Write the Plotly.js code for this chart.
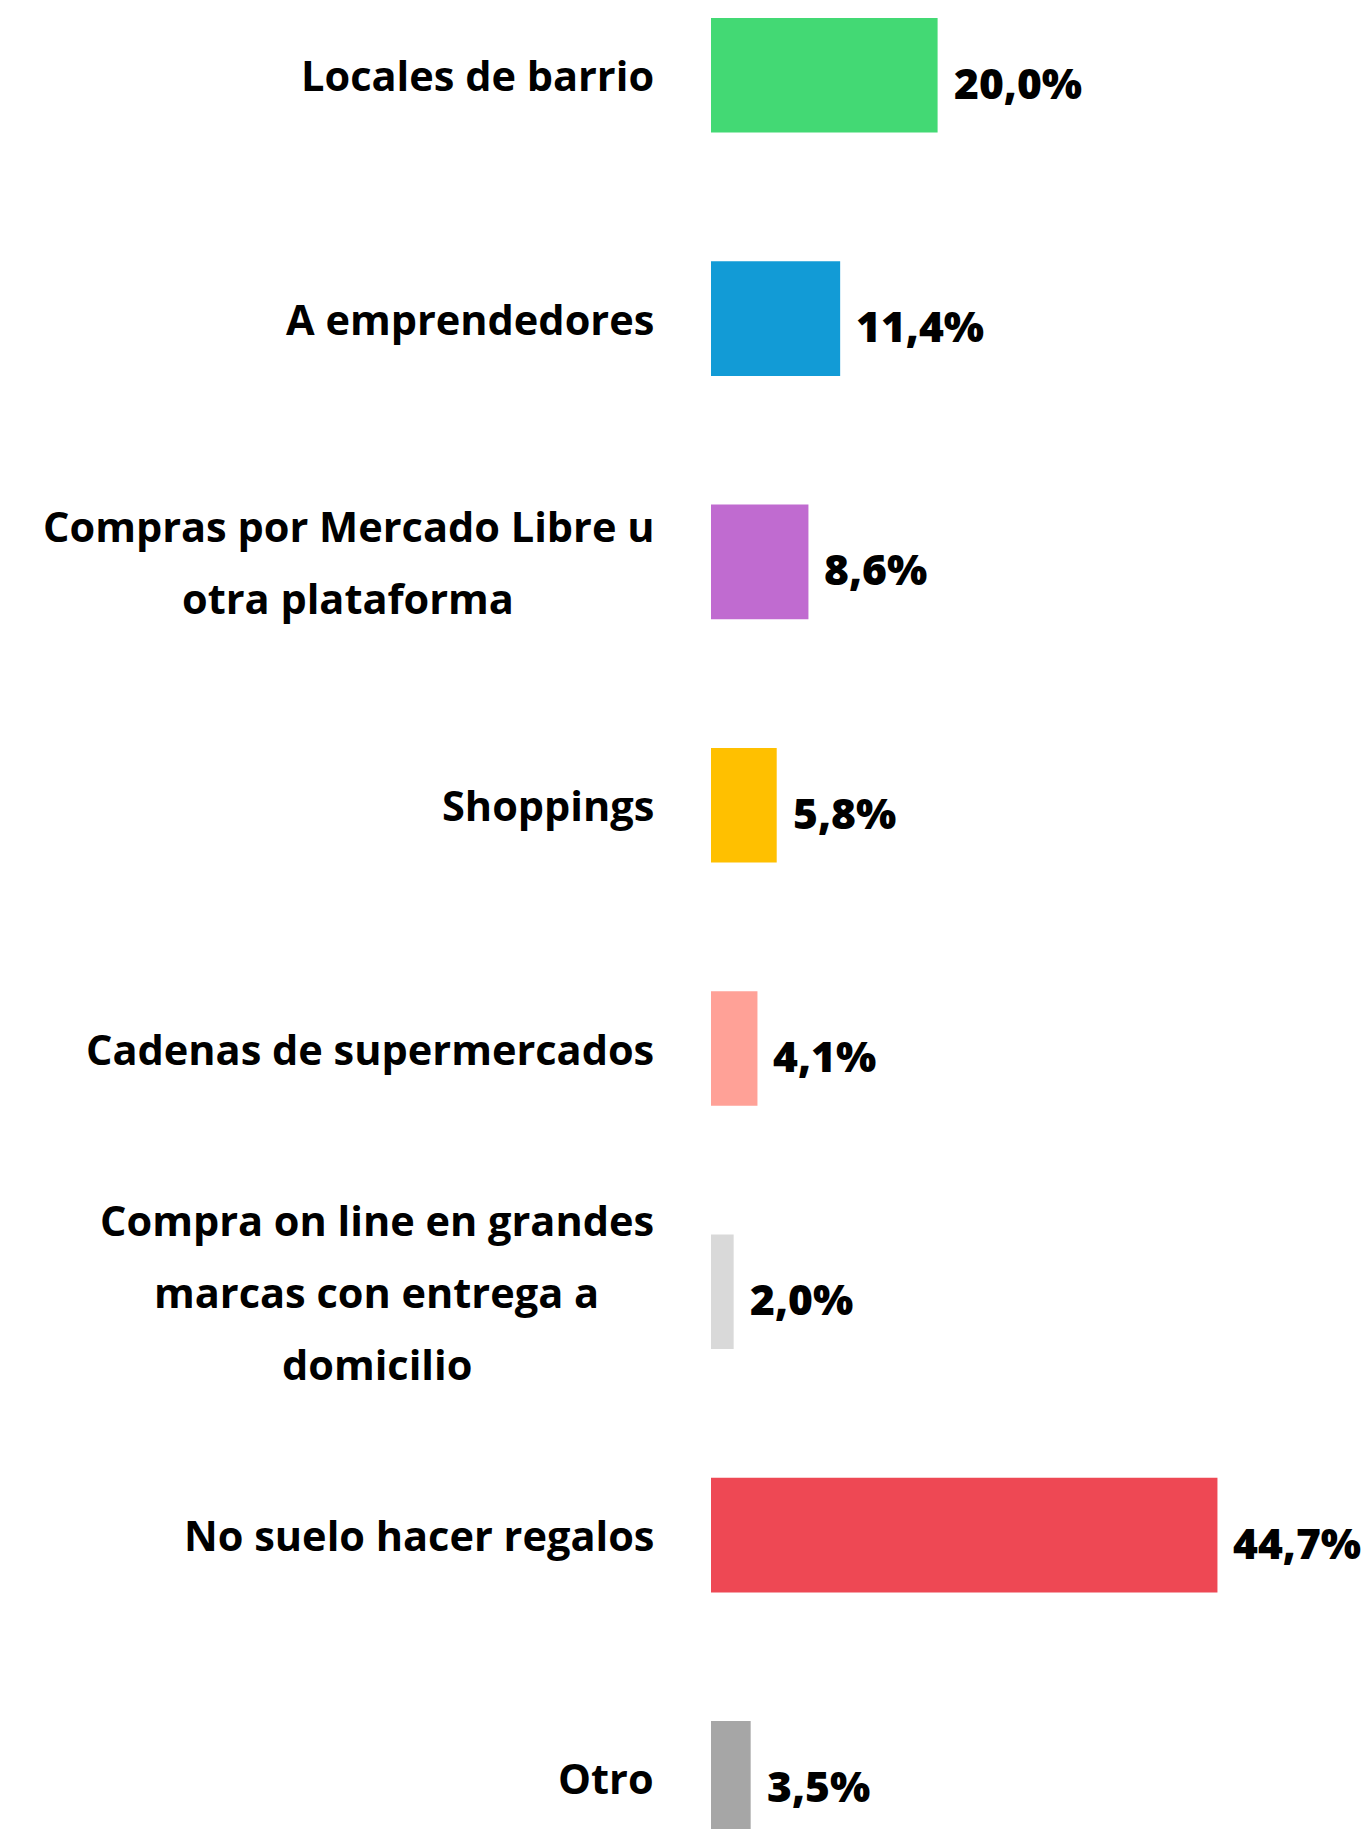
<!DOCTYPE html>
<html>
<head>
<meta charset="utf-8">
<script src="https://cdn.plot.ly/plotly-3.0.1.min.js"></script>
<style>
  html, body { margin: 0; padding: 0; background: #ffffff; }
  #chart { width: 1369px; height: 1829px; }
</style>
</head>
<body>
<div id="chart"></div>
<script>
// ---- data ----
const categories = [
  "Locales de barrio",
  "A emprendedores",
  "Compras por Mercado Libre u<br>otra plataforma",
  "Shoppings",
  "Cadenas de supermercados",
  "Compra on line en grandes<br>marcas con entrega a<br>domicilio",
  "No suelo hacer regalos",
  "Otro"
];
const values = [20.0, 11.4, 8.6, 5.8, 4.1, 2.0, 44.7, 3.5];
const valueLabels = ["20,0%", "11,4%", "8,6%", "5,8%", "4,1%", "2,0%", "44,7%", "3,5%"];
const colors = ["#43d974", "#129bd6", "#c06bd0", "#ffc000", "#ffa197", "#d9d9d9", "#ee4854", "#a6a6a6"];

// ---- style ----
const LABEL_FONT = "Open Sans";
const LABEL_SIZE = 41.5;
const LABEL_WEIGHT = 700;
const LINE_STEP = 72;
const LABEL_GAP = 57;
const VALUE_FONT = "Open Sans";
const VALUE_SIZE = 42.5;
const VALUE_WEIGHT = 800;

const canvas = document.createElement("canvas");
const ctx = canvas.getContext("2d");
ctx.font = LABEL_WEIGHT + " " + LABEL_SIZE + "px '" + LABEL_FONT + "'";

const annotations = [];
categories.forEach((cat, i) => {
  const lines = cat.split("<br>");
  const blockW = Math.max(...lines.map(l => ctx.measureText(l).width));
  const n = lines.length;
  lines.forEach((line, j) => {
    annotations.push({
      xref: "paper", yref: "y",
      x: 0, y: cat,
      xanchor: "center", yanchor: "middle",
      xshift: -(LABEL_GAP + blockW / 2),
      yshift: ((n - 1) / 2 - j) * LINE_STEP,
      text: line,
      showarrow: false,
      align: "center",
      font: { family: LABEL_FONT, size: LABEL_SIZE, weight: LABEL_WEIGHT, color: "#000000" }
    });
  });
  annotations.push({
    xref: "x", yref: "y",
    x: values[i], y: cat,
    xanchor: "left", yanchor: "middle",
    xshift: 14, yshift: -7,
    text: valueLabels[i],
    showarrow: false,
    font: { family: VALUE_FONT, size: VALUE_SIZE, weight: VALUE_WEIGHT, color: "#000000" }
  });
});

const trace = {
  type: "bar",
  orientation: "h",
  x: values,
  y: categories,
  marker: { color: colors },
  width: 0.471,
  hoverinfo: "skip"
};

const layout = {
  width: 1369,
  height: 1829,
  margin: { l: 711, r: 0, t: 0, b: 0, pad: 0 },
  paper_bgcolor: "#ffffff",
  plot_bgcolor: "#ffffff",
  showlegend: false,
  xaxis: {
    range: [0, 658 / 11.33],
    visible: false,
    showgrid: false,
    zeroline: false,
    fixedrange: true
  },
  yaxis: {
    type: "category",
    categoryorder: "array",
    categoryarray: categories,
    range: [7.208, -0.3095],
    showticklabels: false,
    showgrid: false,
    zeroline: false,
    showline: false,
    ticks: "",
    fixedrange: true
  },
  annotations: annotations
};

Plotly.newPlot("chart", [trace], layout, { displayModeBar: false, staticPlot: true });
</script>
</body>
</html>
